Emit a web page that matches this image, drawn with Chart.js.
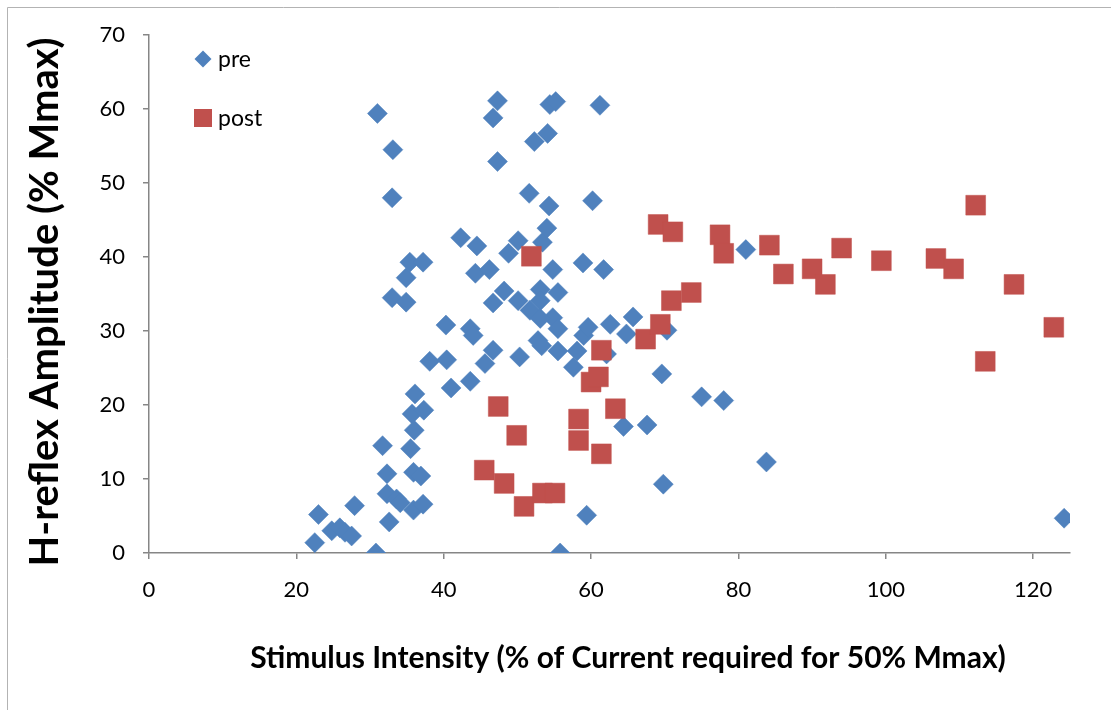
<!DOCTYPE html>
<html>
<head>
<meta charset="utf-8">
<script src="https://cdn.jsdelivr.net/npm/chart.js@4.4.1/dist/chart.umd.min.js"></script>
<style>
  html, body { margin: 0; padding: 0; background: #ffffff; }
  #wrap { position: relative; width: 1111px; height: 710px; overflow: hidden; }
  canvas { display: block; }
</style>
</head>
<body>
<div id="wrap"><canvas id="c" width="1111" height="710"></canvas></div>
<script>
// ---- data ----
const preX = [22.5, 23.0, 24.8, 25.9, 26.6, 27.5, 27.9, 30.8, 31.0, 33.1, 33.0, 31.7, 32.3, 32.3, 33.6, 34.1, 32.6,
  33.0, 34.9, 34.9, 35.4, 37.2, 36.1, 35.7, 37.3, 36.0, 35.5, 35.9, 36.9, 35.9, 37.2, 38.1, 40.4, 40.3, 41.0,
  42.3, 43.6, 44.0, 43.6, 44.5, 44.3, 45.6, 46.2, 46.7, 46.7, 47.3, 46.7, 47.3, 48.2, 48.8, 50.1, 50.1, 50.3,
  51.7, 51.6, 52.3, 53.1, 52.8, 53.3, 53.1, 53.4, 54.0, 54.1, 54.3, 54.4, 55.2, 54.8, 54.8, 53.1, 55.5, 55.5,
  55.5, 55.8, 57.6, 58.1, 58.9, 59.0, 59.6, 59.4, 60.2, 61.2, 61.7, 62.1, 62.6, 64.8, 65.7, 64.4, 67.6, 69.6,
  69.8, 70.3, 75.0, 78.0, 81.0, 83.8, 124.2];
const preY = [1.4, 5.2, 3.0, 3.4, 2.8, 2.3, 6.4, 0.0, 59.4, 54.5, 48.0, 14.5, 10.7, 8.0, 7.3, 6.8, 4.2,
  34.5, 33.9, 37.2, 39.3, 39.3, 21.5, 18.8, 19.3, 16.6, 14.1, 10.9, 10.4, 5.8, 6.6, 25.9, 26.1, 30.8, 22.3,
  42.6, 30.3, 29.4, 23.2, 41.5, 37.8, 25.6, 38.3, 33.8, 27.4, 61.1, 58.8, 52.9, 35.4, 40.5, 42.2, 34.1, 26.5,
  32.8, 48.6, 55.6, 35.6, 28.7, 28.0, 34.1, 42.0, 43.9, 56.7, 46.9, 60.6, 61.0, 38.3, 31.8, 31.7, 35.2, 30.3,
  27.3, 0.0, 25.1, 27.3, 39.2, 29.4, 30.5, 5.1, 47.6, 60.5, 38.3, 26.9, 30.9, 29.6, 31.9, 17.1, 17.3, 24.2,
  9.3, 30.1, 21.1, 20.6, 41.0, 12.3, 4.7];
const postX = [45.5, 47.4, 48.2, 49.9, 50.9, 51.9, 53.4, 55.1, 58.3, 58.3, 60.0, 61.0, 61.4, 61.4, 63.3,
  67.4, 69.4, 69.1, 71.1, 70.9, 73.6, 77.5, 78.0, 84.2, 86.1, 90.0, 91.8, 94.0, 99.4, 106.8, 109.2, 112.2,
  113.5, 117.4, 122.8];
const postY = [11.2, 19.8, 9.4, 15.9, 6.3, 40.1, 8.1, 8.1, 18.1, 15.2, 23.1, 23.8, 27.4, 13.4, 19.5,
  28.9, 30.9, 44.4, 43.4, 34.1, 35.2, 43.0, 40.5, 41.6, 37.7, 38.4, 36.3, 41.2, 39.5, 39.8, 38.4, 47.0,
  25.9, 36.3, 30.5];
const seriesNames = ['pre', 'post'];
const xTickValues = [0, 20, 40, 60, 80, 100, 120];
const yTickValues = [0, 10, 20, 30, 40, 50, 60, 70];
const xTitle = 'Stimulus Intensity (% of Current required for 50% Mmax)';
const yTitle = 'H-reflex Amplitude (% Mmax)';

// ---- styles ----
const BLUE = '#4F81BD';
const RED = '#C0504D';
const AXIS = '#868686';
const FONT = 'Lato, "Open Sans", sans-serif';

const toPts = (xs, ys) => xs.map((x, i) => ({ x: x, y: ys[i] }));

const framePlugin = {
  id: 'frame',
  beforeDraw(chart) {
    const ctx = chart.ctx;
    ctx.save();
    ctx.fillStyle = '#ffffff';
    ctx.fillRect(0, 0, chart.width, chart.height);
    ctx.strokeStyle = '#b3b3b3';
    ctx.lineWidth = 1;
    ctx.beginPath();
    ctx.moveTo(7.5, chart.height);
    ctx.lineTo(7.5, 7.5);
    ctx.lineTo(chart.width, 7.5);
    ctx.stroke();
    ctx.restore();
  }
};

// axis titles placed where the reference has them
const titlePlugin = {
  id: 'axisTitles',
  afterDraw(chart) {
    const ctx = chart.ctx;
    ctx.save();
    ctx.fillStyle = '#000000';
    ctx.textAlign = 'center';
    ctx.textBaseline = 'middle';
    ctx.font = 'bold 30px ' + FONT;
    ctx.fillText(xTitle, 628, 658);
    ctx.translate(45, 302);
    ctx.rotate(-Math.PI / 2);
    ctx.font = 'bold 40px ' + FONT;
    ctx.fillText(yTitle, 0, 0);
    ctx.restore();
  }
};

const legendPlugin = {
  id: 'insideLegend',
  afterDraw(chart) {
    const ctx = chart.ctx;
    ctx.save();
    const items = [
      { ds: chart.data.datasets[1], y: 59 },
      { ds: chart.data.datasets[0], y: 118 }
    ];
    items.forEach(it => {
      const cx = 203, cy = it.y;
      ctx.fillStyle = it.ds.backgroundColor;
      ctx.beginPath();
      if (it.ds.pointStyle === 'rectRot') {
        ctx.moveTo(cx, cy - 8.5); ctx.lineTo(cx + 8.5, cy); ctx.lineTo(cx, cy + 8.5); ctx.lineTo(cx - 8.5, cy);
        ctx.closePath();
      } else {
        ctx.rect(cx - 9, cy - 9, 18, 18);
      }
      ctx.fill();
      ctx.fillStyle = '#000000';
      ctx.font = '23px ' + FONT;
      ctx.textBaseline = 'middle';
      ctx.textAlign = 'left';
      ctx.fillText(it.ds.label, 218, cy + 1);
    });
    ctx.restore();
  }
};

new Chart(document.getElementById('c'), {
  type: 'scatter',
  data: {
    datasets: [
      {
        label: seriesNames[1],
        data: toPts(postX, postY),
        pointStyle: 'rect',
        pointRadius: 14,
        pointHoverRadius: 14,
        backgroundColor: RED,
        borderColor: RED,
        borderWidth: 0.5,
        order: 0
      },
      {
        label: seriesNames[0],
        data: toPts(preX, preY),
        pointStyle: 'rectRot',
        pointRadius: 10,
        pointHoverRadius: 10,
        backgroundColor: BLUE,
        borderColor: BLUE,
        borderWidth: 0.5,
        order: 1
      }
    ]
  },
  options: {
    responsive: false,
    animation: false,
    events: [],
    layout: { padding: { left: 0, right: 41, top: 35, bottom: 0 } },
    plugins: {
      legend: { display: false },
      tooltip: { enabled: false }
    },
    scales: {
      x: {
        type: 'linear',
        min: 0,
        max: 125,
        afterFit(scale) { scale.height = 157; },
        afterBuildTicks(scale) { scale.ticks = xTickValues.map(v => ({ value: v })); },
        ticks: { stepSize: 20, includeBounds: false, color: '#000000', padding: 18,
                 font: { family: FONT, size: 22 } },
        grid: { display: true, drawOnChartArea: false, drawTicks: true, tickLength: 6, color: AXIS, lineWidth: 1.5 },
        border: { display: true, color: AXIS, width: 1.5 },
        title: { display: false, text: xTitle }
      },
      y: {
        type: 'linear',
        min: 0,
        max: 70,
        afterFit(scale) { scale.width = 149; },
        afterBuildTicks(scale) { scale.ticks = yTickValues.map(v => ({ value: v })); },
        ticks: { stepSize: 10, color: '#000000', padding: 18,
                 font: { family: FONT, size: 22 } },
        grid: { display: true, drawOnChartArea: false, drawTicks: true, tickLength: 6, color: AXIS, lineWidth: 1.5 },
        border: { display: true, color: AXIS, width: 1.5 },
        title: { display: false, text: yTitle }
      }
    }
  },
  plugins: [framePlugin, titlePlugin, legendPlugin]
});
</script>
</body>
</html>
